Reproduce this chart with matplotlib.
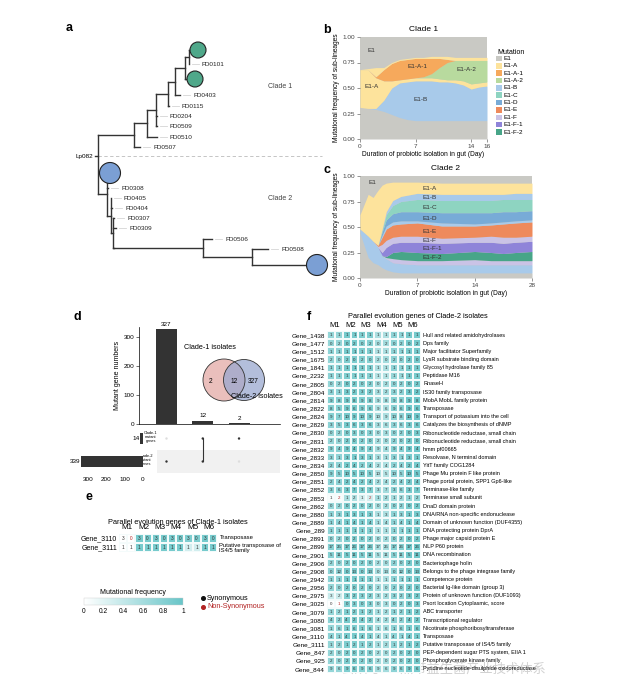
import numpy as np
import matplotlib.pyplot as plt
from matplotlib.colors import LinearSegmentedColormap
from matplotlib.patches import Circle, Rectangle
from matplotlib.cm import ScalarMappable
from matplotlib.colors import Normalize

plt.rcParams['font.family'] = ['Liberation Sans', 'DejaVu Sans', 'Noto Sans CJK SC']
plt.rcParams['axes.linewidth'] = 0.5

# ---------------- data ----------------
# panel a: tree as (name, branch length, children); '@g' / '@b' are coloured tips
TREE = ('Lp082', 0, [
    ('', 36, [
        ('', 13, [
            ('', 9, [
                ('', 12, [
                    ('', 7, [
                        ('', 10, [
                            ('', 4, [('@g', 9, []), ('FD0101', 0, [])]),
                            ('@g', 10, []),
                        ]),
                        ('FD0403', 5, []),
                    ]),
                    ('FD0115', 1, []),
                ]),
                ('FD0204', 0.5, []),
                ('FD0509', 0.5, []),
            ]),
            ('FD0510', 10, []),
        ]),
        ('FD0507', 6, []),
    ]),
    ('', 9, [
        ('@b', 3, []),
        ('FD0308', 1, []),
        ('', 4, [
            ('FD0405', 0, []),
            ('FD0404', 1, []),
            ('', 2, [
                ('FD0307', 1, []),
                ('FD0309', 3, []),
                ('', 1, [
                    ('', 89, [
                        ('FD0506', 9, []),
                        ('', 49, [('FD0508', 16, []), ('@B', 65, [])]),
                    ]),
                ]),
            ]),
        ]),
    ]),
])
LEAF_Y = [50, 64, 79, 95, 106, 116, 126, 137, 147,
          173, 188, 198, 208, 218, 228, 239, 249, 265]
ROOT_X, ROOT_Y = 98, 156

# panel b: upper boundaries of stacked sub-lineages, Clade 1
B_DAYS = list(range(17))
b_e1_low = [.31, .30, .29, .27, .24, .21, .19, .18, .18, .18, .18, .18, .18, .18, .18, .18, .18]
b_e1b = [.31, .30, .30, .38, .50, .55, .56, .57, .57, .57, .56, .56, .55, .53, .49, .51, .52]
b_e1a_low = [.68, .68, .60, .57, .57, .58, .59, .60, .60, .60, .59, .58, .58, .57, .54, .55, .56]
b_e1a2 = [.68, .68, .60, .57, .57, .58, .59, .60, .61, .64, .70, .75, .77, .77, .77, .77, .77]
b_e1a1 = [.68, .68, .61, .68, .74, .77, .78, .79, .79, .79, .79, .78, .77, .77, .77, .77, .77]
b_e1a_high = [.68, .69, .70, .70, .75, .78, .79, .80, .80, .81, .81, .81, .80, .80, .80, .80, .80]

# panel c: Clade 2
C_DAYS = [0, 1, 1.6, 2.2, 2.7, 3.2, 4, 5, 7, 10, 14, 18, 21, 24, 28]
c_e1_low = [.44, .20, .15, .13, .10, .08, .06, .05, .05, .05, .05, .05, .05, .05, .05]
c_b_low = [.48, .41, .36, .30, .22, .19, .15, .14, .13, .13, .13, .13, .13, .13, .13]
c_f_low = [.48, .41, .36, .30, .22, .20, .19, .18, .17, .17, .18, .17, .17, .17, .17]
c_f2 = [.48, .41, .36, .30, .22, .21, .25, .26, .25, .24, .26, .25, .24, .25, .26]
c_f1 = [.48, .41, .36, .30, .25, .30, .34, .35, .35, .34, .35, .35, .34, .35, .36]
c_f_high = [.48, .41, .36, .31, .33, .37, .40, .41, .41, .39, .40, .41, .40, .40, .41]
c_e = [.48, .41, .36, .32, .40, .48, .52, .53, .54, .51, .51, .52, .53, .54, .55]
c_b_mid = [.48, .41, .36, .32, .42, .51, .55, .56, .56, .54, .53, .54, .55, .56, .57]
c_d = [.48, .41, .36, .32, .45, .57, .63, .65, .65, .64, .64, .64, .65, .65, .66]
c_c = [.48, .41, .36, .32, .47, .62, .71, .75, .77, .76, .76, .76, .77, .77, .77]
c_b_high = [.48, .41, .36, .32, .48, .65, .76, .80, .83, .82, .82, .82, .82, .83, .83]
c_a = [.62, .82, .79, .86, .91, .93, .94, .94, .94, .93, .93, .93, .93, .93, .93]

MUTATIONS = ['E1', 'E1-A', 'E1-A-1', 'E1-A-2', 'E1-B', 'E1-C', 'E1-D',
             'E1-E', 'E1-F', 'E1-F-1', 'E1-F-2']
MUT_COLORS = ['#c9c9c4', '#fde39c', '#f6a95c', '#b8da9e', '#a8caea', '#8ed4c1',
              '#78abd7', '#ee8a5c', '#cac3e6', '#8f84d9', '#47a588']

# panel d: upset
INTERSECT = [327, 12, 2]
SET_NAMES = ['Clade-1\nmutant\ngenes', 'Clade-2\nmutant\ngenes']
SET_SIZES = [14, 339]
MEMBERS = [[0, 1], [1, 1], [1, 0]]   # per intersection: in clade-1, in clade-2
VENN = ['2', '12', '327']

# panel e
GENES_E = ['Gene_3110', 'Gene_3111']
COUNTS_E = ['3 0', '1 1']
FREQ_E = [[0.0, 0.9, 0.9, 0.9, 0.85, 0.9],
          [0.0, 0.9, 0.9, 0.9, 0.3, 0.9]]
NOTES_E = ['Transposase', 'Putative transposase of\nIS4/5 family']
RED_E = [(0, 0)]

# panel f
GENES_F = ['Gene_1438', 'Gene_1477', 'Gene_1512', 'Gene_1675', 'Gene_1841', 'Gene_2232',
           'Gene_2805', 'Gene_2804', 'Gene_2814', 'Gene_2822', 'Gene_2824', 'Gene_2829',
           'Gene_2830', 'Gene_2831', 'Gene_2832', 'Gene_2833', 'Gene_2834', 'Gene_2850',
           'Gene_2851', 'Gene_2852', 'Gene_2853', 'Gene_2862', 'Gene_2880', 'Gene_2889',
           'Gene_289', 'Gene_2891', 'Gene_2899', 'Gene_2901', 'Gene_2906', 'Gene_2908',
           'Gene_2942', 'Gene_2956', 'Gene_2975', 'Gene_3025', 'Gene_3079', 'Gene_3080',
           'Gene_3081', 'Gene_3110', 'Gene_3111', 'Gene_847', 'Gene_925', 'Gene_844']
COUNTS_F = ['1 1', '0 2', '1 1', '2 0', '1 1', '1 1', '0 2',
            '3 1|3 2|3 2|3 2|3 2|3 2', '9 8', '8 5|9 6|9 6|9 6|9 6|9 6',
            '9 7|10 9|10 9|10 9|10 8|10 9', '3 5|3 6|3 6|3 6|3 6|3 6',
            '0 2|0 3|0 3|0 3|0 2|0 3', '2 0', '9 4', '3 1', '2 4',
            '9 5|10 5|10 5|10 5|10 5|10 5', '2 4', '3 6|3 7|3 7|3 7|3 6|3 7',
            '1 2', '0 2', '1 3', '1 4', '1 1', '0 2',
            '17 25|17 26|17 26|17 25|17 26|17 26', '5 11', '2 0',
            '0 12|0 13|0 13|0 13|0 12|0 13', '1 1', '2 0', '3 2',
            '0 1|0 3|0 3|0 3|0 2|0 3', '1 2', '4 2', '1 6', '4 1', '1 2',
            '2 0', '2 0', '9 6']
FREQ_F = [
    [.70, .90, .85, .55, .75, .90], [.70, .90, .80, .60, .75, .90],
    [.75, .90, .85, .55, .75, .90], [.70, .85, .80, .60, .75, .90],
    [.75, .90, .85, .55, .75, .90], [.75, .85, .80, .50, .70, .90],
    [.70, .90, .80, .60, .75, .90], [.75, .90, .85, .60, .75, .95],
    [.80, .90, .85, .60, .80, .95], [.80, .90, .85, .55, .80, .95],
    [.80, .90, .85, .55, .75, .95], [.75, .90, .85, .60, .75, .90],
    [.70, .85, .80, .60, .75, .90], [.70, .85, .80, .60, .75, .90],
    [.80, .90, .85, .60, .80, .95], [.75, .90, .85, .60, .75, .90],
    [.75, .90, .80, .55, .75, .90], [.80, .90, .85, .50, .75, .95],
    [.75, .90, .85, .60, .75, .90], [.75, .90, .85, .60, .75, .90],
    [.05, .55, .30, .60, .60, .70], [.70, .85, .80, .60, .75, .90],
    [.75, .90, .85, .55, .75, .90], [.75, .90, .85, .60, .75, .90],
    [.75, .85, .80, .55, .75, .90], [.70, .85, .80, .60, .75, .90],
    [.80, .90, .85, .60, .80, .95], [.80, .90, .85, .60, .80, .95],
    [.70, .85, .80, .60, .75, .90], [.75, .90, .85, .60, .75, .90],
    [.75, .90, .85, .55, .75, .90], [.70, .85, .80, .60, .75, .90],
    [.35, .85, .80, .60, .75, .90], [.00, .85, .80, .60, .75, .90],
    [.70, .85, .80, .60, .75, .90], [.75, .90, .85, .60, .75, .90],
    [.70, .85, .80, .60, .75, .90], [.75, .90, .85, .60, .75, .90],
    [.70, .85, .80, .60, .75, .90], [.70, .85, .80, .60, .75, .90],
    [.70, .85, .80, .60, .75, .90], [.70, .85, .80, .60, .75, .90]]
NOTES_F = ['Hull and related amidohydrolases', 'Dps family', 'Major facilitator Superfamily',
           'LysR substrate binding domain', 'Glycosyl hydrolase family 85', 'Peptidase M16',
           'RnaseH', 'IS30 family transposase', 'MobA MobL family protein', 'Transposase',
           'Transport of potassium into the cell', 'Catalyzes the biosynthesis of dNMP',
           'Ribonucleotide reductase, small chain', 'Ribonucleotide reductase, small chain',
           'hmm pf00665', 'Resolvase, N terminal domain', 'YitT family COG1284',
           'Phage Mu protein F like protein', 'Phage portal protein, SPP1 Gp6-like',
           'Terminase-like family', 'Terminase small subunit', 'DnaD domain protein',
           'DNA/RNA non-specific endonuclease', 'Domain of unknown function (DUF4355)',
           'DNA protecting protein DprA', 'Phage major capsid protein E', 'NLP P60 protein',
           'DNA recombination', 'Bacteriophage holin', 'Belongs to the phage integrase family',
           'Competence protein', 'Bacterial Ig-like domain (group 3)',
           'Protein of unknown function (DUF1093)', 'Psort location Cytoplasmic, score',
           'ABC transporter', 'Transcriptional regulator', 'Nicotinate phosphoribosyltransferase',
           'Transposase', 'Putative transposase of IS4/5 family',
           'PEP-dependent sugar PTS system, EIIA 1', 'Phosphoglycerate kinase family',
           'Pyridine nucleotide-disulphide oxidoreductase']
RED_F = [(20, 0), (20, 2), (33, 0)]

WATERMARK = '公众号 · 热带益生菌产业技术体系'

TEAL = LinearSegmentedColormap.from_list('teal', ['#ffffff', '#68c5c8'])
DARK = '#333333'
RED = '#b22222'

# ---------------- layout helpers ----------------
W, H = 630, 685
fig = plt.figure(figsize=(6.3, 6.85), dpi=100)


def box(x0, y0, x1, y1):
    return fig.add_axes([x0 / W, 1 - y1 / H, (x1 - x0) / W, (y1 - y0) / H])


canvas = box(0, 0, W, H)
canvas.set_xlim(0, W)
canvas.set_ylim(H, 0)
canvas.axis('off')

for lab, x, y in [('a', 66, 28), ('b', 323, 30), ('c', 323, 170), ('d', 73, 317),
                  ('e', 85, 497), ('f', 307, 317)]:
    canvas.text(x, y, lab, fontsize=9, fontweight='bold', va='center')

# ---------------- a: tree ----------------
leaf_iter = iter(LEAF_Y)


def draw(node, x):
    name, bl, kids = node
    if not kids:
        y = next(leaf_iter)
        if name.startswith('@'):
            col = '#4fa88a' if name == '@g' else '#7b9fd4'
            r = 8 if name == '@g' else 10.5
            canvas.add_patch(Circle((x, y), r, facecolor=col, edgecolor='#222222', lw=0.8, zorder=3))
        else:
            canvas.plot([x + 3, x + 10], [y, y], color='#d5d5d5', lw=0.6)
            canvas.text(x + 13, y, name, fontsize=4.6, va='center', color='#222222')
        return y
    ys = []
    for k in kids:
        cx = x + k[1]
        cy = draw(k, cx)
        canvas.plot([x, cx], [cy, cy], color='#333333', lw=1.0, zorder=2)
        ys.append(cy)
    canvas.plot([x, x], [min(ys), max(ys)], color='#333333', lw=1.0, zorder=2)
    return (ys[0] + ys[-1]) / 2


draw(TREE, ROOT_X)
canvas.plot([ROOT_X, 322], [ROOT_Y, ROOT_Y], color='#bbbbbb', lw=0.6, ls=(0, (4, 3)))
canvas.plot([ROOT_X - 3, ROOT_X], [ROOT_Y, ROOT_Y], color='#333333', lw=1.0)
canvas.text(ROOT_X - 5, ROOT_Y, 'Lp082', fontsize=4.6, ha='right', va='center')
canvas.text(268, 86, 'Clade 1', fontsize=5, color='#444444', va='center')
canvas.text(268, 198, 'Clade 2', fontsize=5, color='#444444', va='center')


def style_stream(ax):
    for s in ax.spines.values():
        s.set_visible(False)
    ax.tick_params(labelsize=4.6, length=2, width=0.4, pad=1.5, colors='#444444')
    ax.set_ylim(0, 1)
    ax.set_yticks([0, .25, .5, .75, 1], ['0.00', '0.25', '0.50', '0.75', '1.00'])
    ax.set_ylabel('Mutational frequency of sub-lineages', fontsize=4.8, labelpad=2)
    ax.set_xlabel('Duration of probiotic isolation in gut (Day)', fontsize=4.8, labelpad=1.5)


col = dict(zip(MUTATIONS, MUT_COLORS))

# ---------------- b ----------------
ax_b = box(360, 37, 487, 139)
ax_b.set_facecolor(col['E1'])
layers_b = [(np.zeros(17), b_e1_low, 'E1'), (b_e1_low, b_e1b, 'E1-B'),
            (b_e1b, b_e1a_low, 'E1-A'), (b_e1a_low, b_e1a2, 'E1-A-2'),
            (b_e1a2, b_e1a1, 'E1-A-1'), (b_e1a1, b_e1a_high, 'E1-A')]
for lo, hi, m in layers_b:
    ax_b.fill_between(B_DAYS, lo, hi, color=col[m], lw=0)
ax_b.set_xlim(0, 16)
ax_b.set_xticks([0, 7, 14, 16])
style_stream(ax_b)
ax_b.set_title('Clade 1', fontsize=6, pad=4)
for t, x, y in [('E1', 1.5, .87), ('E1-A', 1.5, .51), ('E1-A-1', 7.3, .71),
                ('E1-A-2', 13.4, .68), ('E1-B', 7.7, .39)]:
    ax_b.text(x, y, t, fontsize=4.6, ha='center', va='center', color='#333333')

canvas.text(497, 52, 'Mutation', fontsize=5, va='center')
for i, (m, c) in enumerate(zip(MUTATIONS, MUT_COLORS)):
    y = 58.5 + i * 7.35
    canvas.add_patch(Rectangle((496, y - 2.8), 6, 5.6, facecolor=c, lw=0))
    canvas.text(504, y, m, fontsize=4.6, va='center')

# ---------------- c ----------------
ax_c = box(360, 176, 532, 278)


def fwd(d):
    d = np.asarray(d, float)
    return np.where(d <= 14, d, 14 + (d - 14) * 0.5)


def inv(u):
    u = np.asarray(u, float)
    return np.where(u <= 14, u, 14 + (u - 14) * 2)


ax_c.set_xscale('function', functions=(fwd, inv))
ax_c.set_facecolor(col['E1'])
stack_c = [(c_e1_low, 'E1'), (c_b_low, 'E1-B'), (c_f_low, 'E1-F'), (c_f2, 'E1-F-2'),
           (c_f1, 'E1-F-1'), (c_f_high, 'E1-F'), (c_e, 'E1-E'), (c_b_mid, 'E1-B'),
           (c_d, 'E1-D'), (c_c, 'E1-C'), (c_b_high, 'E1-B'), (c_a, 'E1-A')]
prev = np.zeros(len(C_DAYS))
for hi, m in stack_c:
    ax_c.fill_between(C_DAYS, prev, hi, color=col[m], lw=0)
    prev = np.array(hi)
ax_c.set_xlim(0, 28)
ax_c.set_xticks([0, 7, 14, 28], ['0', '7', '14', '28'])
ax_c.minorticks_off()
style_stream(ax_c)
ax_c.set_title('Clade 2', fontsize=6, pad=4)
ax_c.text(1.0, .94, 'E1', fontsize=4.6, va='center', color='#333333')
for t, y in [('E1-A', .88), ('E1-B', .785), ('E1-C', .695), ('E1-D', .585), ('E1-E', .46),
             ('E1-F', .37), ('E1-F-1', .29), ('E1-F-2', .205)]:
    ax_c.text(7.6, y, t, fontsize=4.6, va='center', color='#333333')

# ---------------- d: upset + venn ----------------
ax_d = box(139, 327, 280, 424)
xs = np.arange(len(INTERSECT))
ax_d.bar(xs, INTERSECT, width=0.58, color='#333333')
for x, v in zip(xs, INTERSECT):
    ax_d.text(x, v + 8, str(v), ha='center', va='bottom', fontsize=4.6)
ax_d.set_xlim(-0.76, 3.13)
ax_d.set_ylim(0, 334)
ax_d.set_xticks([])
ax_d.set_yticks([0, 100, 200, 300])
ax_d.tick_params(labelsize=4.6, length=2, width=0.4, pad=1)
ax_d.spines[['top', 'right']].set_visible(False)
ax_d.set_ylabel('Mutant gene numbers', fontsize=5, labelpad=2)

ax_m = box(157, 427, 280, 473)
ax_m.set_xlim(-0.262, 3.13)
ax_m.set_ylim(1.5, -0.5)
ax_m.axhspan(0.5, 1.5, color='#f1f1f1', lw=0)
for x, mem in zip(xs, MEMBERS):
    on = [r for r in (0, 1) if mem[r]]
    ax_m.scatter([x, x], [0, 1], s=3, color=['#333333' if mem[r] else '#dddddd' for r in (0, 1)],
                 lw=0, zorder=3)
    if len(on) == 2:
        ax_m.plot([x, x], on, color='#333333', lw=0.8)
ax_m.axis('off')

ax_s = box(81, 427, 143, 473)
ax_s.barh([0, 1], SET_SIZES, height=0.5, color='#333333')
ax_s.set_xlim(339, 0)
ax_s.set_ylim(1.5, -0.5)
ax_s.set_xticks([300, 200, 100, 0])
ax_s.set_yticks([])
ax_s.tick_params(labelsize=4.6, length=0, pad=3)
for s in ax_s.spines.values():
    s.set_visible(False)
for r, v in enumerate(SET_SIZES):
    ax_s.text(v + 6, r, str(v), ha='right', va='center', fontsize=4.6)
canvas.text(151, 437, SET_NAMES[0], fontsize=2.8, ha='center', va='center', linespacing=1.0)
canvas.text(146, 460, SET_NAMES[1], fontsize=2.8, ha='center', va='center', linespacing=1.0)

over = box(0, 0, W, H)
over.set_xlim(0, W)
over.set_ylim(H, 0)
over.axis('off')
over.add_patch(Circle((224, 380), 21, facecolor='#e3aaa6', alpha=0.75, edgecolor='none'))
over.add_patch(Circle((244, 380), 20.5, facecolor='#9aa8cf', alpha=0.75, edgecolor='none'))
over.add_patch(Circle((224, 380), 21, facecolor='none', edgecolor='#333333', lw=0.6))
over.add_patch(Circle((244, 380), 20.5, facecolor='none', edgecolor='#333333', lw=0.6))
for t, x in zip(VENN, [211, 234, 253]):
    over.text(x, 381, t, fontsize=4.8, ha='center', va='center')
over.text(210, 347, 'Clade-1 isolates', fontsize=5.2, ha='center', va='center')
over.text(257, 396, 'Clade-2 isolates', fontsize=5.2, ha='center', va='center')


# ---------------- heatmaps ----------------
def heatmap(ax, genes, freq, counts, notes, reds, gfs, nfs, cfs):
    vals = np.repeat(np.array(freq), 2, axis=1)
    ax.pcolormesh(vals, cmap=TEAL, vmin=0, vmax=1, edgecolors='#f4fbfb', linewidth=0.15)
    n = len(genes)
    ax.set_xlim(0, 12)
    ax.set_ylim(n, 0)
    for i, row in enumerate(counts):
        pairs = row.split('|')
        if len(pairs) == 1:
            pairs = pairs * 6
        for m, p in enumerate(pairs):
            a, b = p.split()
            ax.text(2 * m + 0.5, i + 0.55, a, ha='center', va='center', fontsize=cfs, color=DARK)
            ax.text(2 * m + 1.5, i + 0.55, b, ha='center', va='center', fontsize=cfs,
                    color=RED if (i, m) in reds else DARK)
    ax.set_yticks(np.arange(n) + 0.5, genes, fontsize=gfs)
    ax.set_xticks([])
    ax.tick_params(length=0, pad=1.5)
    for s in ax.spines.values():
        s.set_visible(False)
    for m in range(6):
        ax.text(2 * m + 1, -0.25, f'M{m + 1}', ha='center', va='bottom', fontsize=gfs + 0.9)
    for i, t in enumerate(notes):
        if '\n' in t:
            ax.text(12.3, i + 0.05, t, fontsize=nfs, va='top', linespacing=0.95)
        else:
            ax.text(12.3, i + 0.5, t, fontsize=nfs, va='center')


ax_e = box(119, 533.5, 217, 551.5)
heatmap(ax_e, GENES_E, FREQ_E, COUNTS_E, NOTES_E, RED_E, 5, 4.2, 3.4)
canvas.text(178, 522, 'Parallel evolution genes of Clade-1 isolates', fontsize=5.3,
            ha='center', va='center')

ax_f = box(327, 331, 421, 673)
heatmap(ax_f, GENES_F, FREQ_F, COUNTS_F, NOTES_F, RED_F, 4.6, 4.0, 3.2)
canvas.text(418, 316, 'Parallel evolution genes of Clade-2 isolates', fontsize=5.3,
            ha='center', va='center')

cax = box(84, 598, 183, 605)
cb = fig.colorbar(ScalarMappable(Normalize(0, 1), TEAL), cax=cax, orientation='horizontal')
cb.set_ticks([0, .2, .4, .6, .8, 1], labels=['0', '0.2', '0.4', '0.6', '0.8', '1'])
cb.ax.tick_params(labelsize=4.8, length=0, pad=2.5)
cb.outline.set_linewidth(0.3)
cb.outline.set_edgecolor('#cccccc')
canvas.text(133, 592, 'Mutational frequency', fontsize=5, ha='center', va='center')

canvas.plot(203, 598, 'o', ms=2.6, color='#111111')
canvas.text(207, 598, 'Synonymous', fontsize=5.2, va='center')
canvas.plot(203, 607, 'o', ms=2.6, color=RED)
canvas.text(207, 607, 'Non-Synonymous', fontsize=5.2, va='center', color=RED)

# faint watermark over the bottom of panel f
over.text(443, 669, WATERMARK, fontsize=9.5, ha='center', va='center', color='#9a9a9a',
          alpha=0.45, family=['Noto Sans CJK SC', 'DejaVu Sans'])

fig.savefig('out.png', dpi=100)
